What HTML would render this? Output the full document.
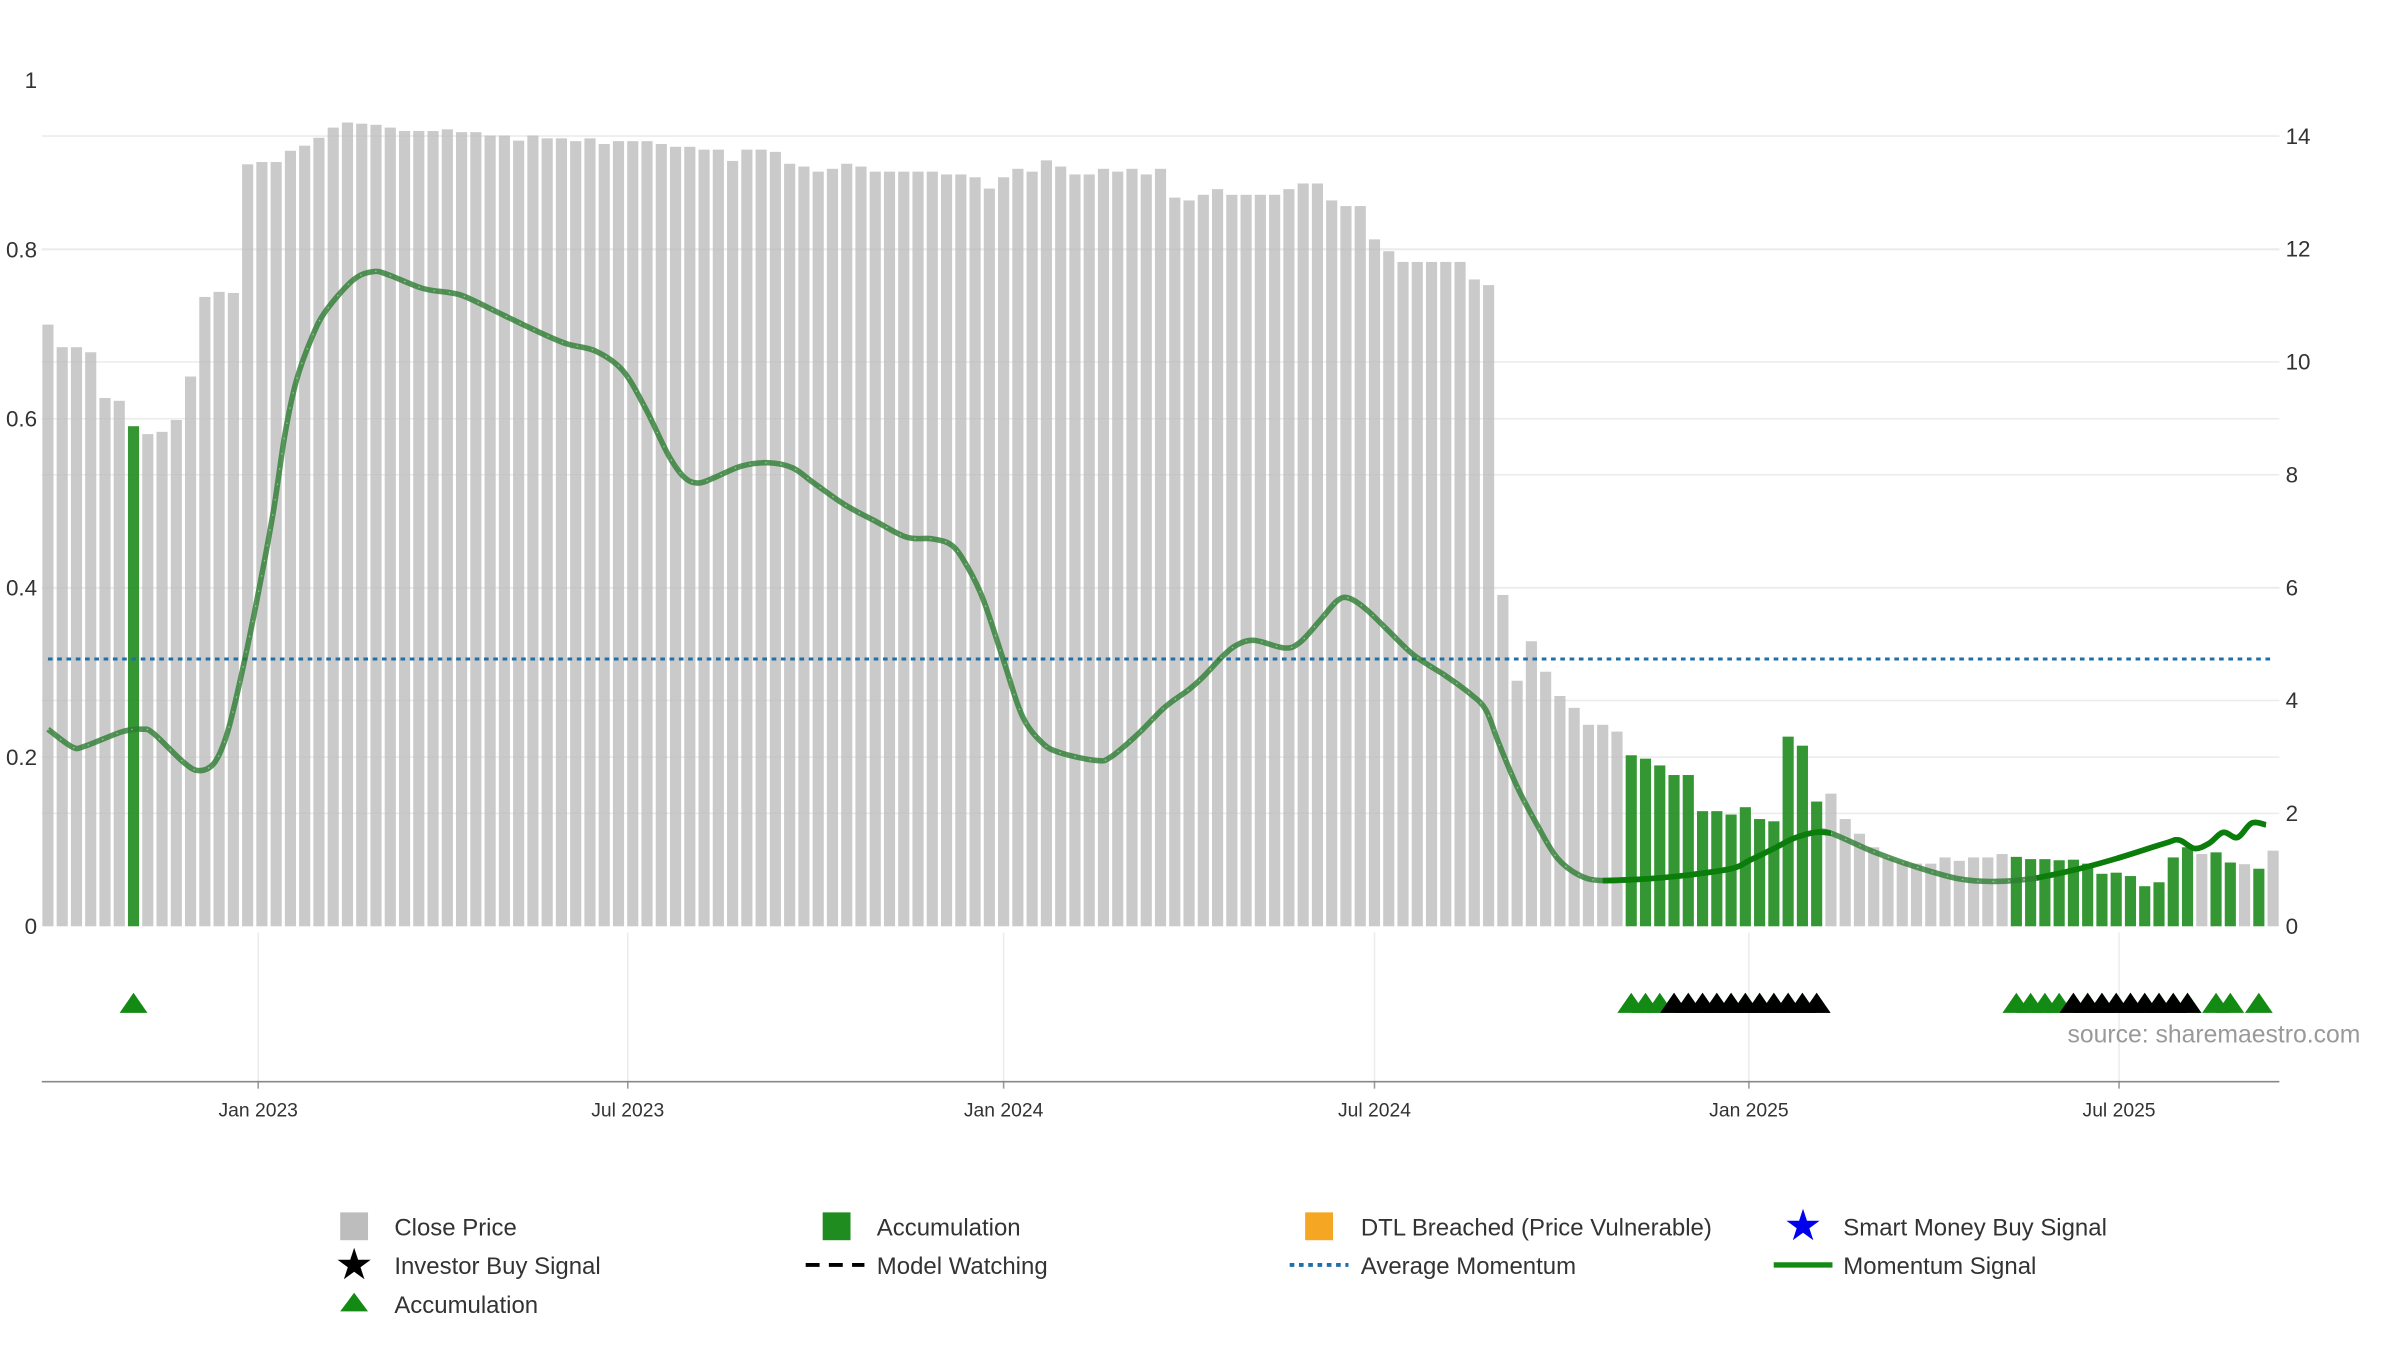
<!DOCTYPE html>
<html><head><meta charset="utf-8"><style>
html,body{margin:0;padding:0;background:#fff;}
svg{display:block;font-family:"Liberation Sans","DejaVu Sans",sans-serif;}
</style></head><body>
<svg id="chart" width="2400" height="1350" viewBox="0 0 1552 873" xmlns="http://www.w3.org/2000/svg">
<g id="grid"></g>
<g id="bars"></g>
<g id="lines"></g>
<g id="markers"></g>
<g id="axes"></g>
<text x="1337" y="674" font-size="16" fill="#999">source: sharemaestro.com</text>
<g id="legend" font-size="15.5" fill="#333" transform="translate(0,-2)">
  <rect x="220" y="786" width="18" height="18" fill="#bdbdbd"/>
  <text x="255" y="801">Close Price</text>
  <rect x="532" y="786" width="18" height="18" fill="#1e8c1e"/>
  <text x="567" y="801">Accumulation</text>
  <rect x="844" y="786" width="18" height="18" fill="#f5a623"/>
  <text x="880" y="801">DTL Breached (Price Vulnerable)</text>
  <text x="1166" y="804" font-size="28" fill="#0000ee" text-anchor="middle">★</text>
  <text x="1192" y="801">Smart Money Buy Signal</text>
  <text x="229" y="829" font-size="28" fill="#000" text-anchor="middle">★</text>
  <text x="255" y="826">Investor Buy Signal</text>
  <line x1="521" y1="820" x2="559" y2="820" stroke="#000" stroke-width="2.5" stroke-dasharray="9,6"/>
  <text x="567" y="826">Model Watching</text>
  <line x1="834" y1="820" x2="872" y2="820" stroke="#1f6fa8" stroke-width="2.5" stroke-dasharray="3,3"/>
  <text x="880" y="826">Average Momentum</text>
  <line x1="1147" y1="820" x2="1185" y2="820" stroke="#138a13" stroke-width="3.5"/>
  <text x="1192" y="826">Momentum Signal</text>
  <polygon points="220,850 238,850 229,838" fill="#138a13"/>
  <text x="255" y="851">Accumulation</text>
</g>
</svg>
<script>
var prices=[10.66,10.26,10.26,10.17,9.36,9.31,8.86,8.72,8.76,8.97,9.74,11.15,11.24,11.22,
13.50,13.54,13.54,13.74,13.83,13.97,14.15,14.24,14.22,14.20,14.15,14.09,14.09,14.09,14.12,14.07,14.07,14.01,14.01,13.92,14.01,13.96,13.96,13.91,13.96,13.86,13.91,
13.91,13.91,13.86,13.81,13.81,13.76,13.76,13.56,13.76,13.76,13.72,13.51,13.46,13.37,13.42,13.51,13.46,13.37,13.37,13.37,13.37,13.37,13.32,13.32,13.27,13.07,13.27,13.42,13.37,13.57,13.46,13.32,13.32,13.42,13.37,13.42,13.32,13.42,12.91,12.86,12.96,
13.06,12.96,12.96,12.96,12.96,13.06,13.16,13.16,12.86,12.76,12.76,12.17,11.96,11.77,11.77,11.77,11.77,11.77,11.46,11.36,5.87,4.35,5.05,4.51,4.08,3.87,3.57,3.57,3.45,
3.03,2.97,2.85,2.68,2.68,2.04,2.04,1.98,2.11,1.90,1.86,3.36,3.20,2.21,2.35,1.90,1.64,1.40,1.21,1.15,1.11,1.11,1.22,1.16,1.22,1.22,1.28,
1.23,1.19,1.19,1.17,1.18,1.11,0.93,0.95,0.89,0.71,0.78,1.22,1.40,1.28,1.31,1.13,1.10,1.02,1.34];
var accumIdx=[6,111,112,113,114,115,116,117,118,119,120,121,122,123,124,138,139,140,141,142,143,144,145,146,147,148,149,150,152,153,155];
var investorIdx=[114,115,116,117,118,119,120,121,122,123,124,142,143,144,145,146,147,148,149,150];
var momIdx=[0,1.7,2.6,5.2,6.6,7.4,9.5,10.6,11.7,12.6,13.6,14.7,15.8,16.6,17.4,18.5,19.5,21.4,22.8,23.9,26.3,28.2,29.3,32,34.1,36.3,38.4,40.3,41.9,43.5,44.6,45.6,46.8,48.6,50.5,52.2,53.7,55.9,58,60.2,62,63.4,64.5,65.6,67,68.3,69.7,71,73.5,74.5,76.4,78.3,80,81,82.4,83.4,84.6,86.7,87.8,89.2,90.4,91.2,92.4,94,95.8,98,99.7,100.8,101.7,103,104.4,105.8,107.4,109,112,114.7,118,119.3,121,122.4,123.9,125,128,131,134,136.5,139.4,142.4,145,148.4,149.4,150.5,151.5,152.5,153.5,154.5,155.5];
var momVal=[0.233,0.212,0.213,0.23,0.233,0.228,0.194,0.184,0.194,0.23,0.30,0.39,0.49,0.58,0.644,0.696,0.728,0.764,0.774,0.77,0.754,0.749,0.744,0.722,0.705,0.689,0.68,0.657,0.612,0.557,0.531,0.524,0.531,0.544,0.548,0.542,0.524,0.498,0.479,0.46,0.458,0.45,0.424,0.385,0.314,0.249,0.217,0.205,0.196,0.2,0.227,0.259,0.28,0.295,0.32,0.333,0.338,0.329,0.336,0.362,0.385,0.388,0.375,0.349,0.32,0.296,0.275,0.256,0.217,0.165,0.12,0.081,0.06,0.054,0.056,0.06,0.068,0.078,0.092,0.104,0.111,0.11,0.088,0.07,0.056,0.053,0.057,0.068,0.08,0.098,0.102,0.092,0.098,0.111,0.105,0.122,0.12];
var avgMomentum=0.316;
var leftTicks=[0,0.2,0.4,0.6,0.8,1];
var leftTickLabels=["0","0.2","0.4","0.6","0.8","1"];
var rightTicks=[0,2,4,6,8,10,12,14];
var dateTickPos=[14.74,40.65,67.0,93.0,119.25,145.2];
var dateTickLabels=["Jan 2023","Jul 2023","Jan 2024","Jul 2024","Jan 2025","Jul 2025"];

var NS="http://www.w3.org/2000/svg";
function xI(i){return 31+i*9.224;}
function yL(v){return 599-v*547;}
function yR(v){return 599-v*36.5;}
function mk(tag,attrs,parent){var e=document.createElementNS(NS,tag);for(var k in attrs)e.setAttribute(k,attrs[k]);parent.appendChild(e);return e;}
var G=document.getElementById('grid'),B=document.getElementById('bars'),L=document.getElementById('lines'),M=document.getElementById('markers'),A=document.getElementById('axes');

rightTicks.forEach(function(t){
  if(t!==0){
    var g=mk('line',{x1:27,x2:1474,y1:yR(t),y2:yR(t),stroke:'#ebebeb','stroke-width':1},G);
    
    
  }
  var tx=mk('text',{x:1478,y:yR(t)+5,'font-size':14.5,fill:'#333'},A); tx.textContent=t;
  
  
});
leftTicks.forEach(function(t,k){
  if(t>0&&t<1){var g=mk('line',{x1:27,x2:1474,y1:yL(t),y2:yL(t),stroke:'#ebebeb','stroke-width':1},G);
  
  }
  var tx=mk('text',{x:24,y:yL(t)+5,'font-size':14.5,fill:'#333','text-anchor':'end'},A); tx.textContent=leftTickLabels[k];
  
  
});
dateTickPos.forEach(function(p,k){
  var x=xI(p);
  var g=mk('line',{x1:x,x2:x,y1:603,y2:699,stroke:'#ececec','stroke-width':1},G);
  
  
  var tk=mk('line',{x1:x,x2:x,y1:699,y2:704,stroke:'#999','stroke-width':1},A);
  
  
  var tx=mk('text',{x:x,y:722,'font-size':12.5,fill:'#333','text-anchor':'middle'},A); tx.textContent=dateTickLabels[k];
  
  
});
var ax=mk('line',{x1:27,x2:1474,y1:699.5,y2:699.5,stroke:'#888','stroke-width':1},A);



prices.forEach(function(v,i){
  var acc=accumIdx.indexOf(i)>=0;
  var r=mk('rect',{x:xI(i)-3.6,y:yR(v),width:7.2,height:599-yR(v),fill:acc?'#1e8c1e':'#bdbdbd','fill-opacity':acc?0.9:0.8},B);
  
  
});

var avg=mk('line',{x1:31,x2:1470,y1:yL(avgMomentum),y2:yL(avgMomentum),stroke:'#1f6fa8','stroke-width':2,'stroke-dasharray':'3,3'},L);



function pathFor(ix,vs){
  var pts=ix.map(function(p,k){return [xI(p),yL(vs[k])];});
  var d='M'+pts[0][0]+','+pts[0][1];
  for(var k=0;k<pts.length-1;k++){
    var p0=pts[k-1]||pts[k],p1=pts[k],p2=pts[k+1],p3=pts[k+2]||p2;
    var c1x=p1[0]+(p2[0]-p0[0])/6,c1y=p1[1]+(p2[1]-p0[1])/6,c2x=p2[0]-(p3[0]-p1[0])/6,c2y=p2[1]-(p3[1]-p1[1])/6;
    d+=' C'+c1x+','+c1y+' '+c2x+','+c2y+' '+p2[0]+','+p2[1];
  }
  return d;
}
var ml=mk('path',{d:pathFor(momIdx,momVal),fill:'none',stroke:'#2e7d32','stroke-opacity':0.8,'stroke-width':3.6,'stroke-linejoin':'round'},L);


var mh=mk('path',{d:pathFor(momIdx,momVal),fill:'none',stroke:'#b8f0b8','stroke-opacity':0.6,'stroke-width':0.8,'stroke-dasharray':'1,9'},L);


[[108,125],[137,156]].forEach(function(rg){
  var si=[],sv=[];
  momIdx.forEach(function(p,k){if(p>=rg[0]&&p<=rg[1]){si.push(p);sv.push(momVal[k]);}});
  var s=mk('path',{d:pathFor(si,sv),fill:'none',stroke:'#0a7d0a','stroke-width':3.6,'stroke-linejoin':'round'},L);
  
  
});

function tri(i,color,name){
  var x=xI(i);
  var t=mk('polygon',{points:(x-9)+',655 '+(x+9)+',655 '+x+',642',fill:color},M);
  
  
}
accumIdx.forEach(function(i){tri(i,'#138a13','accumulation-marker');});
investorIdx.forEach(function(i){tri(i,'#000','investor-buy-marker');});
</script>
</body></html>
